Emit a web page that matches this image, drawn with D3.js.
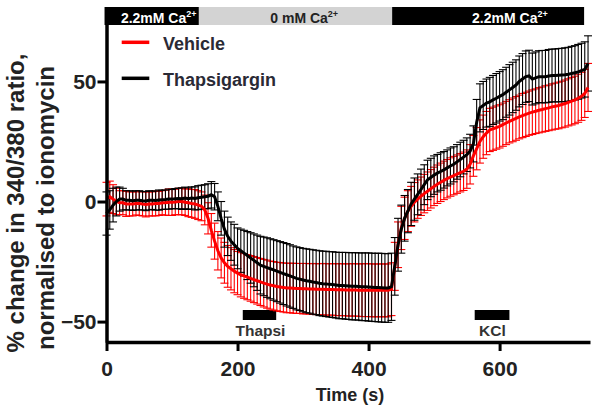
<!DOCTYPE html>
<html><head><meta charset="utf-8">
<script src="https://cdn.jsdelivr.net/npm/d3@7/dist/d3.min.js"></script>
<style>body{margin:0;background:#fff}svg{display:block;font-family:"Liberation Sans",Arial,sans-serif;font-weight:bold}</style>
</head><body><svg id="c" width="601" height="413"></svg>
<script>
const times = [
0,5,10,15,20,25,30,35,40,45, 50,55,60,65,70,75,80,85,90,95,
100,105,110,115,120,125,130,135,140,145, 150,155,160,165,170,175,180,185,190,195,
200,205,210,215,220,225,230,235,240,245, 250,255,260,265,270,275,280,285,290,295,
300,305,310,315,320,325,330,335,340,345, 350,355,360,365,370,375,380,385,390,395,
400,405,410,415,420,425,430,435,440,445, 450,455,460,465,470,475,480,485,490,495,
500,505,510,515,520,525,530,535,540,545, 550,555,560,565,570,575,580,585,590,595,
600,605,610,615,620,625,630,635,640,645, 650,655,660,665,670,675,680,685,690,695,
700,705,710,715,720,725,730,735];
const thapMean = [
-5,-3.5,-1.5,0,1,1,0.5,0.5,0.3,0.5,
0.5,0.3,0.2,0.5,0.5,0.4,0.6,0.7,0.8,1,
1,1.2,1.3,1.2,1.5,1.2,1.5,1.3,1.6,1.8,
2,2.2,2.8,2,-2,-7,-11.5,-14.5,-16.5,-18,
-19.5,-20.5,-21.5,-22.5,-23.5,-24.5,-25.5,-26.5,-27,-27.5,
-28,-28.5,-29,-29.5,-30,-30.5,-31,-31.5,-32,-32.3,
-32.7,-33,-33.2,-33.5,-33.7,-34,-34.2,-34.3,-34.5,-34.6,
-34.8,-35,-35,-35.1,-35.2,-35.3,-35.3,-35.4,-35.5,-35.5,
-35.6,-35.7,-35.8,-35.8,-35.9,-36,-36,-35.5,-27,-18,
-11.5,-7,-4,-1,1,3,5,7,9,10,
11,11.8,12.5,13.2,14,14.8,15.5,16.5,17.5,18.5,
19.5,21,24,33,39,40,41,41.5,42.3,43,
43.8,44.5,45.5,46.5,47.5,48.5,50,51,52,52.3,
51,51.5,52,52,52,52.3,52.5,52.5,52.6,52.7,
52.8,53,53.3,53.6,54,54.5,55,57.5];
const thapSem = [
9,8,7,6,5,4.5,4,4,4,4,
4,3.8,4,4,3.8,4,4.2,4,4,4.2,
4,4.2,4.3,4.5,4.5,4.5,4.6,4.8,5,5,
5,5.2,5.5,5.5,6,7,7.5,8,8,8.5,
8.5,9,9.5,10,10.5,11,11.5,12,12.2,12.4,
12.5,12.6,12.7,12.8,12.9,13,13,13,13.1,13.1,
13.2,13.3,13.3,13.4,13.4,13.5,13.5,13.6,13.6,13.7,
13.7,13.8,13.8,13.9,13.9,14,14,14,14.1,14.1,
14.2,14.2,14.2,14.3,14.3,14.3,14.3,14,12,11,
10,9.5,9,9,8.8,8.5,8.5,8.3,8.2,8,
8,7.8,7.8,7.6,7.5,7.5,7.3,7.2,7.2,7,
7,7,7.5,9.5,10,10,10,10.2,10.2,10.3,
10.3,10.4,10.4,10.5,10.5,10.5,10.6,10.6,10.7,10.7,
10.8,10.8,10.8,10.9,10.9,11,11,11,11.1,11.1,
11.2,11.2,11.3,11.3,11.4,11.4,11.5,11.5];
const vehMean = [
1,2,1,0,-0.5,-0.5,-1,-1,-1,-0.8,
-0.8,-1,-1.2,-1,-1,-0.8,-0.8,-0.5,-0.5,-0.3,
-0.3,-0.2,0,0,-0.3,-0.5,-0.8,-1,-1.5,-2,
-3.5,-7,-12,-16.5,-20.5,-23.5,-25.5,-27,-28,-29,
-29.8,-30.5,-31,-31.5,-32,-32.5,-33,-33.5,-34,-34.4,
-34.8,-35.1,-35.4,-35.6,-35.8,-36,-36,-36.1,-36.2,-36.2,
-36.3,-36.3,-36.4,-36.4,-36.5,-36.5,-36.5,-36.6,-36.6,-36.6,
-36.7,-36.7,-36.7,-36.8,-36.8,-36.8,-36.8,-36.9,-36.9,-36.9,
-36.9,-37,-37,-37,-37,-37,-37,-36.5,-27,-18,
-11,-7,-4,-2,-0.3,1,2.2,3.3,4.3,5.3,
6.3,7.2,8,8.8,9.5,10.2,10.8,11.4,12,12.6,
13.5,15.5,19,22,25,27,28.5,29.8,30.3,30.8,
31.3,32,32.7,33.4,34,34.6,35.2,35.8,36.3,36.8,
37.2,37.6,38,38.3,38.7,39,39.4,39.7,40,40.4,
40.8,41.3,41.8,42.3,43,43.8,45,47.5];
const vehSem = [
7,6.5,6,5.5,5,5,5.2,5,5,4.8,
5,5,5.2,5,5,5.2,5,5,5.2,5.5,
5.5,5.3,5.5,5.5,5.5,5.8,5.8,6,6,6,
6.2,6.5,7,7.5,8,8.3,8.5,8.7,8.8,9,
9,9.2,9.3,9.4,9.5,9.6,9.7,9.8,9.9,10,
10,10.1,10.1,10.2,10.2,10.3,10.3,10.4,10.4,10.4,
10.5,10.5,10.5,10.6,10.6,10.6,10.7,10.7,10.7,10.7,
10.8,10.8,10.8,10.8,10.9,10.9,10.9,10.9,11,11,
11,11,11,11,11,11,11,11,10,9.5,
9,8.8,8.5,8.3,8.2,8,8,8,8,8,
8,8,8,8,8,8,8,8,8,8,
8,8.2,8.5,8.8,9,9,9,9,9,9,
9,9,9,9,9.1,9.1,9.1,9.2,9.2,9.2,
9.3,9.3,9.4,9.4,9.5,9.5,9.6,9.6,9.7,9.7,
9.8,9.8,9.9,9.9,10,10,10,10];
const xTicks = [0,200,400,600];
const yTicks = [-50,0,50];
const seriesNames = ["Vehicle","Thapsigargin"];
const seriesColors = ["#ff0000","#000000"];
const calciumPhases = [
  {label:"2.2mM Ca", sup:"2+", start:-3, end:141, dark:true, labelAt:22},
  {label:"0 mM Ca", sup:"2+", start:141, end:436, dark:false, labelAt:250},
  {label:"2.2mM Ca", sup:"2+", start:436, end:729, dark:true, labelAt:558}
];
const treatments = [
  {label:"Thapsi", start:208, end:259, labelAt:235},
  {label:"KCl", start:562, end:615, labelAt:589}
];

const svg = d3.select("#c");
const x = d3.scaleLinear().domain([0,738]).range([106.5,590]);
const y = d3.scaleLinear().domain([-58.5,81]).range([342,7]);
const txt = "#222";

// Top calcium phase bar
const pg = svg.append("g");
calciumPhases.forEach(p=>{
  pg.append("rect").attr("x",x(p.start)).attr("y",7).attr("width",x(p.end)-x(p.start)).attr("height",18)
    .attr("fill",p.dark?"#000":"#d3d3d3");
  const t = pg.append("text").attr("x",x(p.labelAt)).attr("y",22.5).attr("font-size",14)
    .attr("fill",p.dark?"#fff":"#222").text(p.label);
  t.append("tspan").attr("font-size",9).attr("dy",-6).text(p.sup);
});

// Treatment bars
treatments.forEach(tr=>{
  svg.append("rect").attr("x",x(tr.start)).attr("y",310).attr("width",x(tr.end)-x(tr.start)).attr("height",10).attr("fill","#000");
  svg.append("text").attr("x",x(tr.labelAt)).attr("y",336).attr("text-anchor","middle").attr("font-size",15.5).attr("fill","#333").text(tr.label);
});

// Error bars
function drawErr(mean, sem, color){
  const g = svg.append("g").attr("stroke",color).attr("stroke-width",1.1).attr("fill","none");
  times.forEach((t,i)=>{
    const xi = x(t), y1 = y(mean[i]+sem[i]), y2 = y(mean[i]-sem[i]);
    g.append("line").attr("x1",xi).attr("x2",xi).attr("y1",y1).attr("y2",y2);
    g.append("line").attr("x1",xi-4).attr("x2",xi+4).attr("y1",y1).attr("y2",y1);
    g.append("line").attr("x1",xi-4).attr("x2",xi+4).attr("y1",y2).attr("y2",y2);
  });
}
drawErr(vehMean, vehSem, seriesColors[0]);
drawErr(thapMean, thapSem, seriesColors[1]);
const line = d3.line().x((d,i)=>x(times[i])).y(d=>y(d));
svg.append("path").datum(vehMean).attr("d",line).attr("fill","none").attr("stroke",seriesColors[0]).attr("stroke-width",3);
svg.append("path").datum(thapMean).attr("d",line).attr("fill","none").attr("stroke",seriesColors[1]).attr("stroke-width",3);

// Axes
const xa = svg.append("g").attr("transform","translate(0,342)")
  .call(d3.axisBottom(x).tickValues(xTicks).tickSize(9).tickSizeOuter(0).tickPadding(10).tickFormat(d3.format("d")));
const ya = svg.append("g").attr("transform","translate(106.5,0)")
  .call(d3.axisLeft(y).tickValues(yTicks).tickSize(9).tickSizeOuter(0).tickPadding(1).tickFormat(d3.format("d")));
[xa,ya].forEach(a=>{
  a.select(".domain").attr("stroke","#000").attr("stroke-width",3.5);
  a.selectAll(".tick line").attr("stroke","#000").attr("stroke-width",3);
  a.selectAll(".tick text").attr("font-size",21).attr("fill",txt).attr("font-family","Liberation Sans, Arial, sans-serif").attr("font-weight","bold");
});

// Axis titles
svg.append("text").attr("x",350).attr("y",401).attr("text-anchor","middle").attr("font-size",18).attr("fill",txt).text("Time (s)");
svg.append("text").attr("transform","translate(24,203) rotate(-90)").attr("text-anchor","middle").attr("font-size",24).attr("fill",txt).text("% change in 340/380 ratio,");
svg.append("text").attr("transform","translate(54,208) rotate(-90)").attr("text-anchor","middle").attr("font-size",24).attr("fill",txt).text("normalised to ionomycin");

// Legend
const legY = [42.3, 78.3];
seriesNames.forEach((n,i)=>{
  svg.append("line").attr("x1",121.7).attr("x2",149.3).attr("y1",legY[i]).attr("y2",legY[i]).attr("stroke",seriesColors[i]).attr("stroke-width",3.5);
  svg.append("text").attr("x",163).attr("y",legY[i]+7.7).attr("font-size",18).attr("fill","#2a2a35").text(n);
});
</script></body></html>
